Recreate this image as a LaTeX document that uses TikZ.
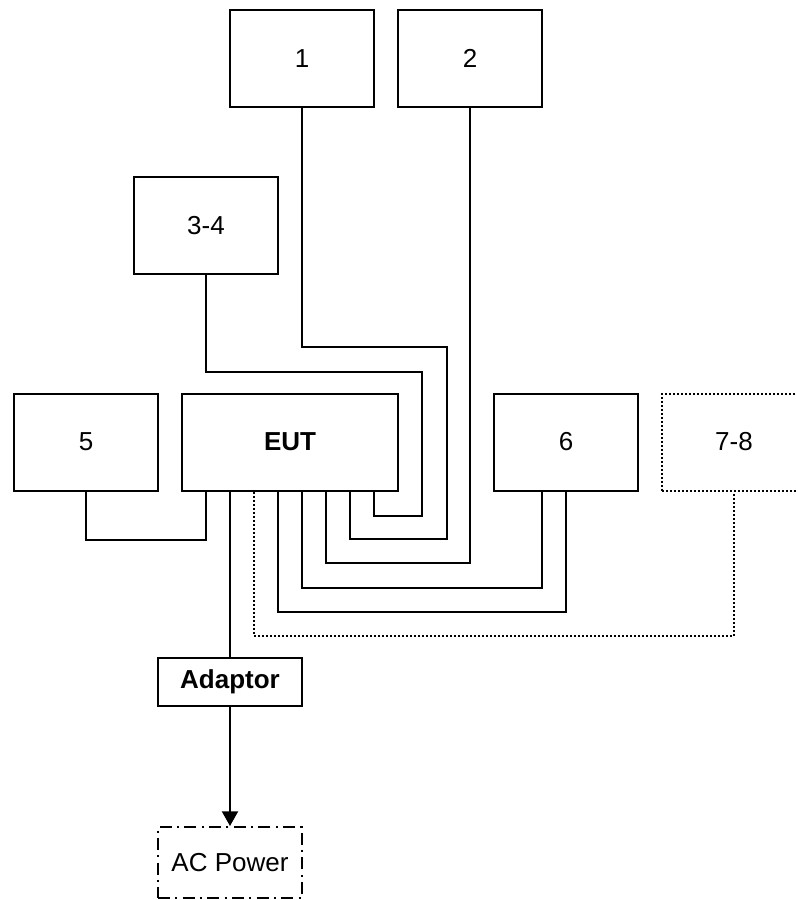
\documentclass[tikz,border=0pt]{standalone}
\usepackage{fontspec}
\setmainfont{Liberation Sans}
\usetikzlibrary{calc,arrows.meta}

\begin{document}
\begin{tikzpicture}[x=0.75pt, y=-0.75pt, line width=1.5pt,
    every node/.style={draw, rectangle, minimum width=144*0.75pt, minimum height=97*0.75pt,
      inner sep=0pt, font=\fontsize{19.5}{23}\selectfont},
    wire/.style={line width=1.5pt},
    optline/.style={line width=1.5pt, dash pattern=on 1.5pt off 1.5pt},
    acline/.style={line width=1.5pt, dash pattern=on 9pt off 4pt on 1.5pt off 4pt}]
  \useasboundingbox (0,0) rectangle (796,900);
  \node (n1) at (302, 58.5) {1};
  \node (n2) at (470, 58.5) {2};
  \node (n34) at (206, 225.5) {3-4};
  \node (n5) at (86, 442) {5};
  \node [minimum width=216*0.75pt] (eut) at (290, 442) {\textbf{EUT}};
  \node (n6) at (566, 442) {6};
  \node [optline] (n78) at (734, 442) {7-8};
  \node [minimum height=48*0.75pt] (adp) at (230, 682) {\textbf{Adaptor}};
  \node [acline, minimum height=71*0.75pt] (ac) at (230, 862.5) {AC Power};
  % ports on the bottom of the EUT
  \foreach \i/\dx in {1/-84, 2/-60, 3/-36, 4/-12, 5/12, 6/36, 7/60, 8/84}
    \coordinate (p\i) at ($(eut.south)+(\dx,0)$);
  \draw [wire] (n5.south) -- ++(0,48) -| (p1);
  \draw [wire] (p2) -- (adp.north);
  \draw [wire, -{Triangle[length=11pt, width=12pt]}] (adp.south) -- (ac.north);
  \draw [optline] (p3) -- ++(0,144) -| (n78.south);
  \draw [wire] (p4) -- ++(0,120) -| (n6.south);
  \draw [wire] (p5) -- ++(0,96) -| ($(n6.south)+(-24,0)$);
  \draw [wire] (n2.south) -- ++(0,455) -| (p6);
  \draw [wire] (n1.south) -- ++(0,239) -| ++(145,192) -| (p7);
  \draw [wire] (n34.south) -- ++(0,97) -| ++(216,144) -| (p8);
\end{tikzpicture}
\end{document}
